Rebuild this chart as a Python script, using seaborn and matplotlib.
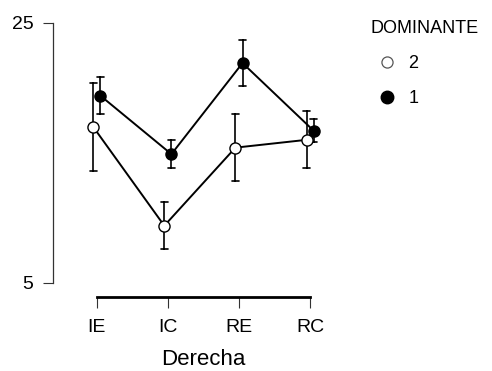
import matplotlib
matplotlib.use("Agg")
import matplotlib.pyplot as plt
import pandas as pd
import seaborn as sns
from matplotlib.lines import Line2D

# Means and half error bars
categories = ["IE", "IC", "RE", "RC"]
groups = ["2", "1"]
means_2 = [17.0, 9.4, 15.4, 16.0]
err_2 = [3.4, 1.8, 2.6, 2.2]
means_1 = [19.4, 14.9, 21.9, 16.7]
err_1 = [1.4, 1.1, 1.8, 0.9]

sns.set_style("white")
plt.rcParams["font.family"] = ["Liberation Sans", "DejaVu Sans"]
plt.rcParams["text.color"] = "black"

# two values per cell (mean - err, mean + err): the mean is the centre and
# the full percentile interval gives the bar
rows = []
for g, m_list, e_list in [("2", means_2, err_2), ("1", means_1, err_1)]:
    for c, m, e in zip(categories, m_list, e_list):
        rows.append({"Derecha": c, "DOMINANTE": g, "val": m - e})
        rows.append({"Derecha": c, "DOMINANTE": g, "val": m + e})
df = pd.DataFrame(rows)

fig = plt.figure(figsize=(4.92, 3.71), dpi=100)
ax = fig.add_axes([0.1077, 0.2372, 0.5833, 0.7016])

sns.pointplot(data=df, x="Derecha", y="val", hue="DOMINANTE", order=categories,
              hue_order=groups, palette=["black", "black"], markers="o",
              dodge=0.1, errorbar=("pi", 100), capsize=0.1,
              err_kws={"linewidth": 1.2}, linewidth=1.4, markersize=8,
              legend=False, ax=ax)

# white markers for group 2, black lines for both
marker_lines = [ln for ln in ax.lines if ln.get_marker() not in (None, "None", "")]
marker_lines[0].set_markerfacecolor("white")
marker_lines[0].set_markeredgecolor("black")
for ln in marker_lines:
    ln.set_markeredgewidth(1.0)
    ln.set_zorder(3)
marker_lines[1].set_zorder(4)

ax.set_ylim(5, 25)
ax.set_xlim(-0.615, 3.42)
ax.set_yticks([5, 25])
ax.set_ylabel("")

sns.despine(ax=ax)
ax.spines["left"].set_bounds(5, 25)
ax.spines["left"].set_linewidth(0.9)
ax.spines["left"].set_color("#333333")
ax.spines["bottom"].set_bounds(0, 3)
ax.spines["bottom"].set_position(("outward", 10))
ax.spines["bottom"].set_linewidth(2.0)
ax.spines["bottom"].set_color("black")

ax.tick_params(axis="y", which="both", left=True, length=7, width=0.8,
               color="#333333", pad=7, labelsize=14, labelcolor="black")
ax.tick_params(axis="x", which="both", bottom=True, length=8, width=0.8,
               color="#333333", pad=8, labelsize=14, labelcolor="black")

ax.set_xlabel("Derecha", fontsize=16, color="black")
frac = (1.5 - ax.get_xlim()[0]) / (ax.get_xlim()[1] - ax.get_xlim()[0])
ax.xaxis.set_label_coords(frac, -0.255)

handles = [
    Line2D([], [], linestyle="none", marker="o", markersize=8,
           markerfacecolor="white", markeredgecolor="#555555", markeredgewidth=0.9),
    Line2D([], [], linestyle="none", marker="o", markersize=9,
           markerfacecolor="black", markeredgecolor="black"),
]
leg = fig.legend(handles, groups, title="DOMINANTE", loc="upper left",
                 bbox_to_anchor=(0.738, 0.965), frameon=False, fontsize=13,
                 title_fontsize=13, labelspacing=1.0, handletextpad=0.2,
                 handlelength=1.9, borderaxespad=0)
leg._legend_box.align = "left"
for t in leg.get_texts():
    t.set_color("black")
leg.get_title().set_color("black")

fig.savefig("out.png", dpi=100)
